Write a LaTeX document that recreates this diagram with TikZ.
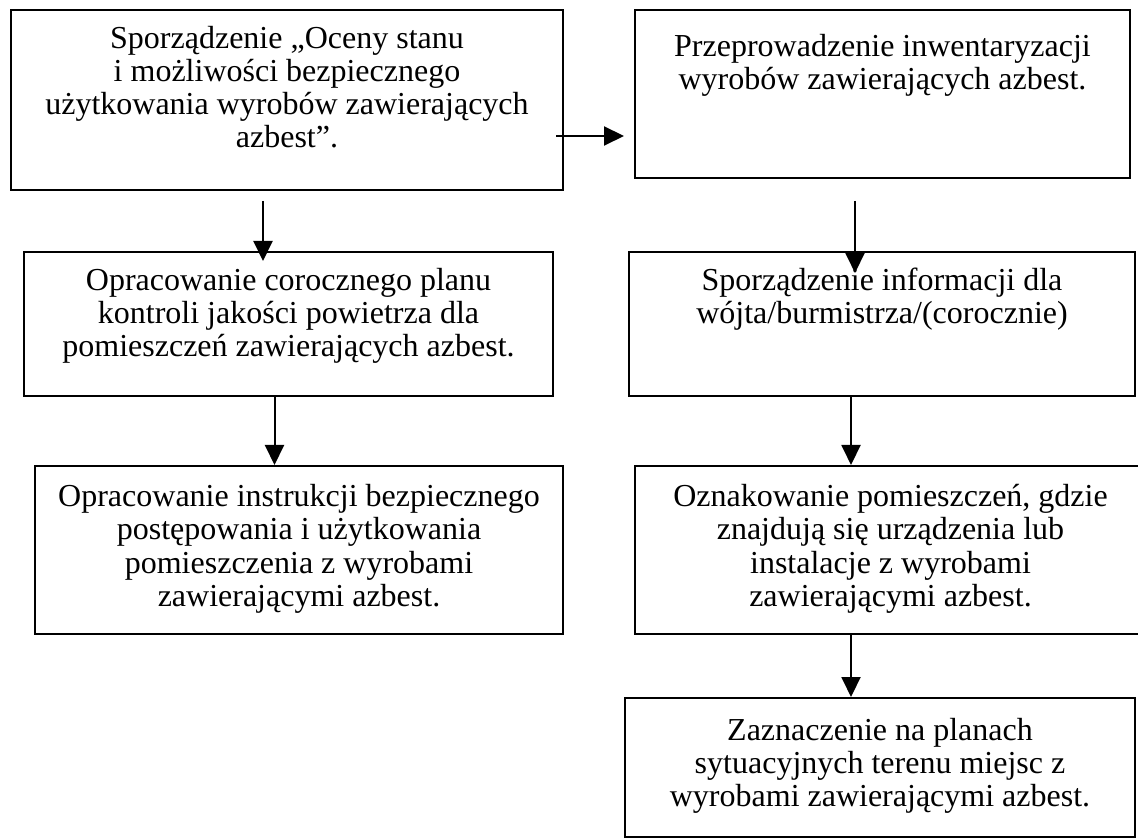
\documentclass[tikz,border=0pt]{standalone}
\usepackage{fontspec}
\setmainfont{Liberation Serif}
\usetikzlibrary{arrows.meta}

\newcommand{\boxtxt}[4]{\parbox[t][#2][t]{#1}{\centering\rule{0pt}{#3}#4}}

\begin{document}
\begin{tikzpicture}[x=0.5pt, y=-0.5pt, every node/.style={
    rectangle,
    draw,
    line width=1pt,
    inner sep=0pt,
    anchor=north west,
    font=\fontsize{16}{16.5}\selectfont
}, arr/.style={-{Triangle[length=10pt, width=9.5pt]}, line width=1pt}]
    \clip (0,0) rectangle (1138,838);
    \node (ocena) [shift={(10, 9)}]
    {
        \boxtxt{276pt}{90pt}{19.5pt}{Sporządzenie „Oceny stanu\\ i możliwości bezpiecznego\\ użytkowania wyrobów zawierających\\ azbest”.}
    };
    \node (inwent) [shift={(634, 9)}]
    {
        \boxtxt{247.5pt}{84pt}{23.5pt}{Przeprowadzenie inwentaryzacji\\ wyrobów zawierających azbest.}
    };
    \node (plan) [shift={(23, 251)}]
    {
        \boxtxt{264.5pt}{72pt}{19.5pt}{Opracowanie corocznego planu\\ kontroli jakości powietrza dla\\ pomieszczeń zawierających azbest.}
    };
    \node (info) [shift={(628, 251)}]
    {
        \boxtxt{253pt}{72pt}{19.5pt}{Sporządzenie informacji dla\\ wójta/burmistrza/(corocznie)}
    };
    \node (instr) [shift={(34, 465)}]
    {
        \boxtxt{264pt}{84pt}{20.5pt}{Opracowanie instrukcji bezpiecznego\\ postępowania i użytkowania\\ pomieszczenia z wyrobami\\ zawierającymi azbest.}
    };
    \node (oznak) [shift={(634, 465)}]
    {
        \boxtxt{255.5pt}{84pt}{20.5pt}{Oznakowanie pomieszczeń, gdzie\\ znajdują się urządzenia lub\\ instalacje z wyrobami\\ zawierającymi azbest.}
    };
    \node (zazn) [shift={(624, 697)}]
    {
        \boxtxt{255pt}{69.5pt}{21pt}{Zaznaczenie na planach\\ sytuacyjnych terenu miejsc z\\ wyrobami zawierającymi azbest.}
    };
    \draw[arr] ([xshift=-4pt, yshift=-18pt]ocena.east) -- ([xshift=-5pt, yshift=-21pt]inwent.west);
    \draw[arr] ([xshift=-12pt, yshift=-5pt]ocena.south) -- ([xshift=-12pt, yshift=-5pt]ocena.south |- plan.north);
    \draw[arr] ([xshift=-7pt]plan.south) -- ([xshift=-7pt]plan.south |- instr.north);
    \draw[arr] ([xshift=-13.75pt, yshift=-11pt]inwent.south) -- ([xshift=-13.75pt, yshift=-11pt]inwent.south |- info.north);
    \draw[arr] ([xshift=-15.5pt]info.south) -- ([xshift=-15.5pt]info.south |- oznak.north);
    \draw[arr] ([xshift=-15.5pt]info.south |- oznak.south) -- ([xshift=-15.5pt]info.south |- zazn.north);
\end{tikzpicture}
\end{document}
